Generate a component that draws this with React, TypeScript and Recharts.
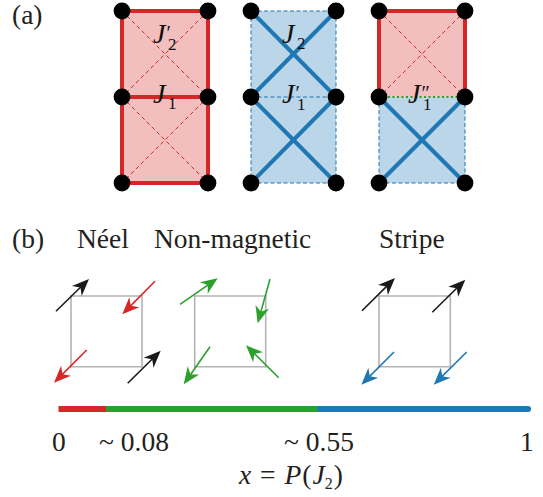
import { ReactElement } from "react";
import {
  ScatterChart,
  Scatter,
  XAxis,
  YAxis,
  ReferenceArea,
  ReferenceLine,
} from "recharts";

const RED = "#d62728";
const BLUE = "#1f77b4";
const GREEN = "#2ca02c";
const INK = "#231f20";
const SERIF = "'Liberation Serif', serif";

// lattice sites of panel (a), in picture units
const colsA = [122, 208, 251, 336, 379, 465];
const rowsA = [11, 97, 183];
const sites = colsA.flatMap((x) => rowsA.map((y) => ({ x, y })));

type Seg = [number, number, number, number];

const redPlaquettes = [
  [122, 208, 11, 97],
  [122, 208, 97, 183],
  [379, 465, 11, 97],
];
const bluePlaquettes = [
  [251, 336, 11, 97],
  [251, 336, 97, 183],
  [379, 465, 97, 183],
];
const redThick: Seg[] = [
  [122, 11, 208, 11],
  [122, 97, 208, 97],
  [122, 183, 208, 183],
  [122, 11, 122, 183],
  [208, 11, 208, 183],
  [379, 11, 465, 11],
  [379, 11, 379, 97],
  [465, 11, 465, 97],
];
const redDashed: Seg[] = [
  [122, 11, 208, 97],
  [208, 11, 122, 97],
  [122, 97, 208, 183],
  [208, 97, 122, 183],
  [379, 11, 465, 97],
  [465, 11, 379, 97],
];
const blueThick: Seg[] = [
  [251, 11, 336, 97],
  [336, 11, 251, 97],
  [251, 97, 336, 183],
  [336, 97, 251, 183],
  [379, 97, 465, 183],
  [465, 97, 379, 183],
];
const blueDashed: Seg[] = [
  [251, 11, 336, 11],
  [251, 97, 336, 97],
  [251, 183, 336, 183],
  [251, 11, 251, 183],
  [336, 11, 336, 183],
  [379, 97, 379, 183],
  [465, 97, 465, 183],
  [379, 183, 465, 183],
];
const greenDotted: Seg[] = [[379, 97, 465, 97]];

// spin squares of panel (b)
const spinSquares = [
  [71, 142, 296, 366.7],
  [194.7, 265.7, 296, 366.7],
  [379, 450.3, 296, 366.7],
];

// arrows: tail x, tail y, tip x, tip y
const blackArrows: Seg[] = [
  [56, 311.3, 89, 279],
  [127.7, 383.3, 160.7, 350.7],
  [362, 310.7, 395, 278],
  [432.3, 312.3, 465.3, 279.7],
];
const redArrows: Seg[] = [
  [155, 281.3, 122.3, 314.3],
  [86.7, 350, 54, 382.7],
];
const greenArrows: Seg[] = [
  [180, 304.3, 217.7, 278.3],
  [270, 279, 257.7, 323.3],
  [210, 346.7, 183.7, 384.3],
  [278.7, 377.7, 246, 345.3],
];
const blueArrows: Seg[] = [
  [394, 352, 361.3, 384.7],
  [466.7, 352, 433.7, 384.7],
];

// phase bar
const phaseStops = [58.5, 106, 320, 528];
const phaseColors = [RED, GREEN, BLUE];
const phaseY = 409;

const plainLabels = [
  { x: 12, y: 24, text: "(a)" },
  { x: 12, y: 248, text: "(b)" },
  { x: 77, y: 248, text: "Néel" },
  { x: 154, y: 248, text: "Non-magnetic" },
  { x: 379, y: 248, text: "Stripe" },
  { x: 52, y: 451, text: "0" },
  { x: 99, y: 451, text: "~ 0.08" },
  { x: 284, y: 451, text: "~ 0.55" },
  { x: 520, y: 451, text: "1" },
];
const couplingLabels = [
  { x: 153, y: 43, sub: "2", prime: "′" },
  { x: 153, y: 103, sub: "1", prime: "" },
  { x: 282, y: 43, sub: "2", prime: "" },
  { x: 282, y: 103, sub: "1", prime: "′" },
  { x: 408, y: 103, sub: "1", prime: "″" },
];
const axisTitle = [{ x: 239, y: 484 }];

const segLines = (segs: Seg[], name: string, props: object) =>
  segs.map((s, i) => (
    <ReferenceLine
      key={`${name}-${i}`}
      segment={[
        { x: s[0], y: s[1] },
        { x: s[2], y: s[3] },
      ]}
      {...props}
    />
  ));

const squareLines = (sq: number[], i: number) =>
  segLines(
    [
      [sq[0], sq[2], sq[1], sq[2]],
      [sq[1], sq[2], sq[1], sq[3]],
      [sq[1], sq[3], sq[0], sq[3]],
      [sq[0], sq[3], sq[0], sq[2]],
    ],
    `square-${i}`,
    { stroke: "#b3b3b3", strokeWidth: 1.6, strokeLinecap: "square" },
  );

// the shaft stops inside the head so that it does not poke through the tip
const arrowShafts = (segs: Seg[], name: string, color: string) =>
  segLines(
    segs.map((s) => {
      const len = Math.hypot(s[2] - s[0], s[3] - s[1]);
      const k = (len - 9) / len;
      return [s[0], s[1], s[0] + (s[2] - s[0]) * k, s[1] + (s[3] - s[1]) * k] as Seg;
    }),
    name,
    { stroke: color, strokeWidth: 1.6 },
  );

const arrowHeads = (segs: Seg[], color: string) => {
  const data = segs.map((s) => ({ x: s[2], y: s[3], tx: s[0], ty: s[1] }));
  const shape = (p: any): ReactElement => {
    const d = p.payload;
    const deg = (Math.atan2(d.y - d.ty, d.x - d.tx) * 180) / Math.PI;
    return (
      <polygon
        points="0,0 -17,-7 -12,0 -17,7"
        fill={color}
        transform={`translate(${p.cx},${p.cy}) rotate(${deg})`}
      />
    );
  };
  return <Scatter data={data} dataKey="y" isAnimationActive={false} shape={shape} />;
};

const plainShape = (p: any): ReactElement => (
  <text x={p.cx} y={p.cy} fontFamily={SERIF} fontSize={27.5} fill={INK}>
    {p.payload.text}
  </text>
);

const couplingShape = (p: any): ReactElement => {
  const d = p.payload;
  return (
    <text x={p.cx} y={p.cy} fontFamily={SERIF} fontSize={28} fill="#111">
      <tspan fontStyle="italic">J</tspan>
      {d.prime ? (
        <tspan fontSize={20} dx={1} dy={-3}>
          {d.prime}
        </tspan>
      ) : null}
      <tspan x={p.cx + 15} dy={d.prime ? 10 : 6} fontSize={17}>
        {d.sub}
      </tspan>
    </text>
  );
};

const titleShape = (p: any): ReactElement => (
  <text x={p.cx} y={p.cy} fontFamily={SERIF} fontSize={27.5} fill={INK}>
    <tspan fontStyle="italic">x</tspan>
    <tspan dx={2}> = </tspan>
    <tspan dx={2} fontStyle="italic">P</tspan>
    <tspan dx={1}>(</tspan>
    <tspan dx={1} fontStyle="italic">J</tspan>
    <tspan fontSize={16} dy={5}>
      2
    </tspan>
    <tspan dx={1} dy={-5}>)</tspan>
  </text>
);

const dotShape = (p: any): ReactElement => <circle cx={p.cx} cy={p.cy} r={8.4} fill="#000" />;

export default function App() {
  return (
    <div style={{ position: "absolute", left: 0, top: 0, width: 543, height: 497 }}>
      <ScatterChart width={543} height={497} margin={{ top: 0, right: 0, bottom: 0, left: 0 }}>
        <XAxis type="number" dataKey="x" domain={[0, 543]} hide />
        <YAxis type="number" dataKey="y" domain={[0, 497]} reversed hide />

        {redPlaquettes.map((r, i) => (
          <ReferenceArea key={`ra-${i}`} x1={r[0]} x2={r[1]} y1={r[2]} y2={r[3]} fill={RED} fillOpacity={0.3} stroke="none" />
        ))}
        {bluePlaquettes.map((r, i) => (
          <ReferenceArea key={`ba-${i}`} x1={r[0]} x2={r[1]} y1={r[2]} y2={r[3]} fill={BLUE} fillOpacity={0.3} stroke="none" />
        ))}

        {segLines(redDashed, "rd", { stroke: RED, strokeWidth: 1, strokeDasharray: "4 3" })}
        {segLines(blueDashed, "bd", { stroke: BLUE, strokeWidth: 1, strokeDasharray: "4 2.5" })}
        {segLines(redThick, "rt", { stroke: RED, strokeWidth: 4 })}
        {segLines(blueThick, "bt", { stroke: BLUE, strokeWidth: 4 })}
        {segLines(greenDotted, "gd", { stroke: GREEN, strokeWidth: 2, strokeDasharray: "2 2.5" })}

        {spinSquares.flatMap(squareLines)}
        {arrowShafts(blackArrows, "ka", "#1a1a1a")}
        {arrowShafts(redArrows, "ra", RED)}
        {arrowShafts(greenArrows, "ga", GREEN)}
        {arrowShafts(blueArrows, "ba", BLUE)}

        {phaseColors.map((c, i) => (
          <ReferenceLine
            key={`phase-${i}`}
            segment={[
              { x: phaseStops[i], y: phaseY },
              { x: phaseStops[i + 1], y: phaseY },
            ]}
            stroke={c}
            strokeWidth={6}
            strokeLinecap={i === 2 ? "round" : "butt"}
          />
        ))}

        <Scatter data={sites} dataKey="y" isAnimationActive={false} shape={dotShape} />
        {arrowHeads(blackArrows, "#1a1a1a")}
        {arrowHeads(redArrows, RED)}
        {arrowHeads(greenArrows, GREEN)}
        {arrowHeads(blueArrows, BLUE)}
        <Scatter data={plainLabels} dataKey="y" isAnimationActive={false} shape={plainShape} />
        <Scatter data={couplingLabels} dataKey="y" isAnimationActive={false} shape={couplingShape} />
        <Scatter data={axisTitle} dataKey="y" isAnimationActive={false} shape={titleShape} />
      </ScatterChart>
    </div>
  );
}
